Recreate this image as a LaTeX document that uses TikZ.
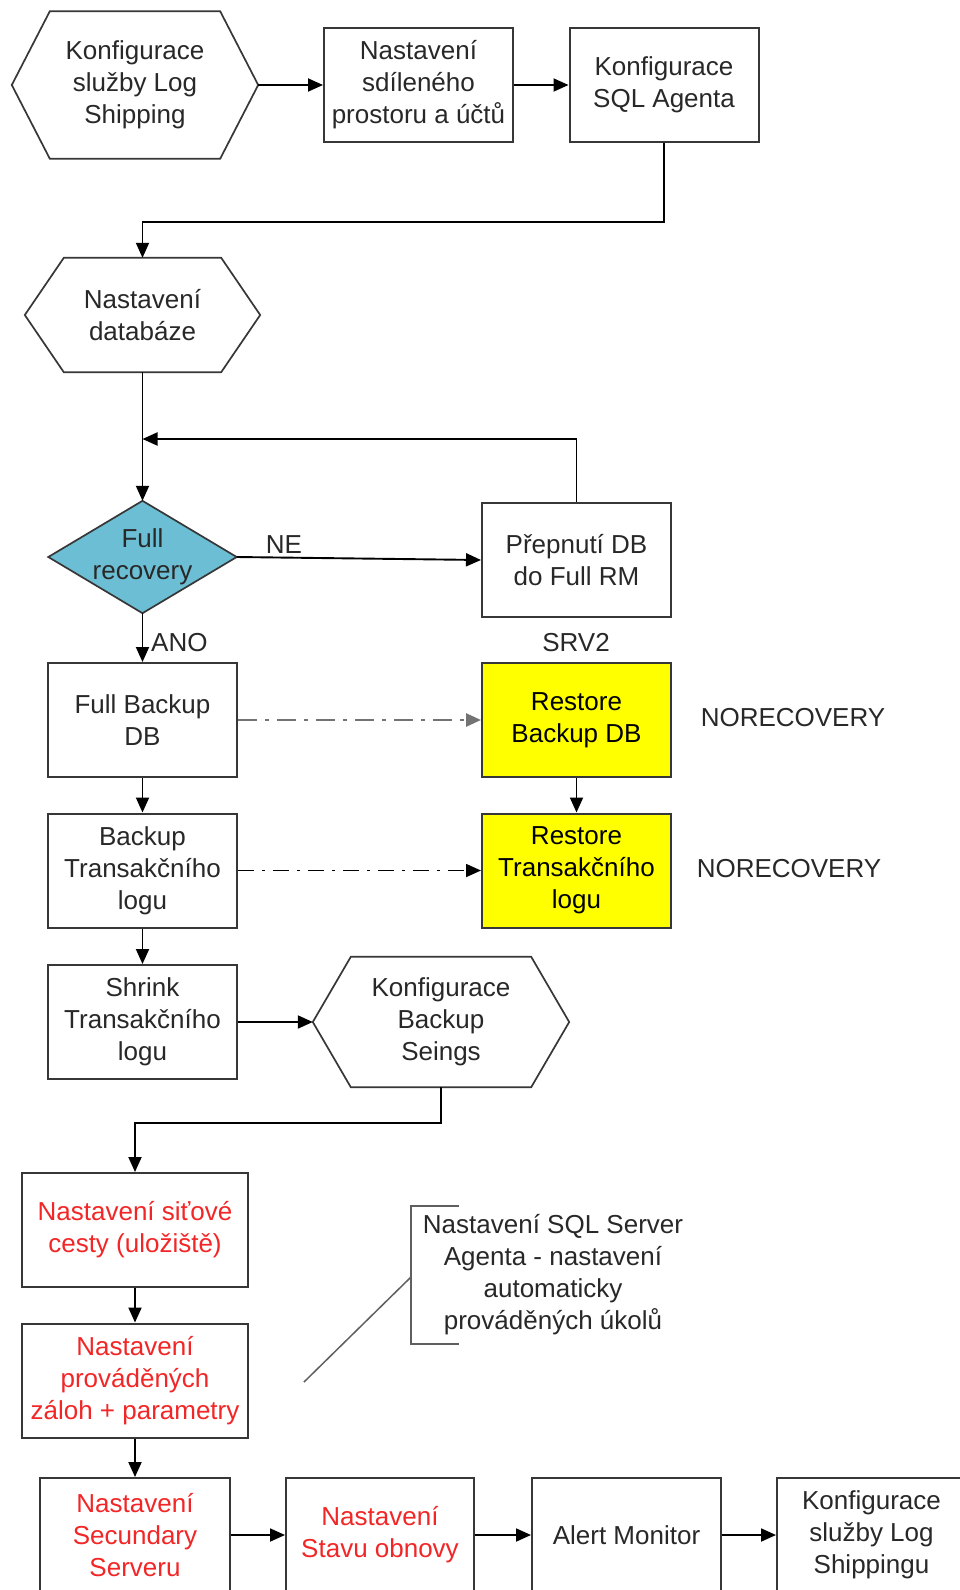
\documentclass[tikz,border=0pt]{standalone}
\usepackage{fontspec}
\setmainfont{Liberation Sans}
\usetikzlibrary{arrows.meta,backgrounds}
\definecolor{inkgray}{RGB}{40,40,40}
\definecolor{linegray}{RGB}{55,55,55}
\definecolor{decisionblue}{RGB}{108,190,212}
\definecolor{restoreyellow}{RGB}{255,255,0}
\definecolor{todored}{RGB}{242,38,38}
\definecolor{calloutgray}{RGB}{95,95,95}
\definecolor{transfergray}{RGB}{115,115,115}

% outline of a flat hexagon around a (borderless) node
\newcommand\hexoutline[2]{%
  \draw[hexline] (#1.west) -- ([xshift=#2]#1.north west) -- ([xshift=-#2]#1.north east)
    -- (#1.east) -- ([xshift=-#2]#1.south east) -- ([xshift=#2]#1.south west) -- cycle;}

\begin{document}
\begin{tikzpicture}[x=1pt,y=-1pt,
  every node/.style={font=\fontsize{26}{32}\selectfont, text=inkgray, align=center, inner sep=0pt},
  box/.style={draw=linegray, line width=2pt, minimum width=189pt, minimum height=114pt},
  redbox/.style={box, text=todored},
  yellowbox/.style={box, fill=restoreyellow, text=black},
  hexbody/.style={draw=none},
  hexline/.style={draw=linegray, line width=1.7pt},
  flow/.style={draw=black, line width=1.9pt, -{Triangle[length=15pt,width=13pt]}},
  transfer/.style={-{Triangle[length=15pt,width=13pt]}},
  tag/.style={text=inkgray}
]
\useasboundingbox (0,0) rectangle (960,1590);
\begin{scope}[on background layer]
  \fill[white] (0,0) rectangle (960,1590);
\end{scope}
\clip (0,0) rectangle (960,1590);

% --- top row ---
\node[hexbody, minimum width=246pt, minimum height=147pt] (cfgls) at (135,85)
  {Konfigurace\\služby Log\\Shipping};
\hexoutline{cfgls}{38pt}
\node[box] (share) at (418.5,85) {Nastavení\\sdíleného\\prostoru a účtů};
\node[box] (agent) at (664,85) {Konfigurace\\SQL Agenta};

% --- database preparation ---
\node[hexbody, minimum width=235pt, minimum height=114pt] (dbset) at (142.5,315)
  {Nastavení\\databáze};
\hexoutline{dbset}{39pt}

\node[minimum width=188pt, minimum height=112pt] (full) at (142.5,557) {Full\\recovery};
\begin{scope}[on background layer]
  \draw[draw=linegray, line width=1.7pt, fill=decisionblue]
    (full.west) -- (full.north) -- (full.east) -- (full.south) -- cycle;
\end{scope}

\node[box] (switch) at (576.5,560) {Přepnutí DB\\do Full RM};

% --- backups on the primary, restores on SRV2 ---
\node[box] (fullbak) at (142.5,720) {Full Backup\\DB};
\node[yellowbox] (rstdb) at (576.5,720) {Restore\\Backup DB};
\node[box] (logbak) at (142.5,870.5) {Backup\\Transakčního\\logu};
\node[yellowbox] (rstlog) at (576.5,870.5) {Restore\\Transakčního\\logu};
\node[box] (shrink) at (142.5,1022) {Shrink\\Transakčního\\logu};

\node[hexbody, minimum width=256pt, minimum height=130pt] (bkset) at (441,1022)
  {Konfigurace\\Backup\\Seings};
\hexoutline{bkset}{38pt}

% --- log shipping wizard steps ---
\node[redbox, minimum width=226pt] (netpath) at (135,1230) {Nastavení siťové\\cesty (uložiště)};
\node[redbox, minimum width=226pt] (jobs) at (135,1380.5) {Nastavení\\prováděných\\záloh + parametry};

\node[redbox, minimum width=190pt] (second) at (135,1535) {Nastavení\\Secundary\\Serveru};
\node[redbox, minimum width=188pt] (restst) at (380,1535) {Nastavení\\Stavu obnovy};
\node[box] (alert) at (626.5,1535) {Alert Monitor};
\node[box] (cfgend) at (871.5,1535) {Konfigurace\\služby Log\\Shippingu};

% --- labels ---
\node[tag] (lne) at (284,545) {NE};
\node[tag, anchor=west] (lano) at (151,643) {ANO};
\node[tag] (lsrv) at (576,643) {SRV2};
\node[tag] (lnr1) at (793,718) {NORECOVERY};
\node[tag] (lnr2) at (789,869) {NORECOVERY};

% --- annotation ---
\node (note) at (553,1275) {Nastavení SQL Server\\Agenta - nastavení\\automaticky\\prováděných úkolů};
\coordinate (brtop) at (459,1206);
\coordinate (brbot) at (459,1344);
\coordinate (brmid) at (411,1277);
\coordinate (ptr) at (304,1382);
\draw[calloutgray, line width=1.8pt] (brtop) -- (411,1206) -- (411,1344) -- (brbot);
\draw[calloutgray, line width=1.5pt] (brmid) -- (ptr);

% --- connectors ---
\coordinate (turn1) at (664,222);
\coordinate (loopin) at (142.5,439);
\coordinate (turn2) at (441,1123);

\draw[flow] (cfgls.east) -- (share.west);
\draw[flow] (share.east) -- (agent.west);
\draw[flow] (agent.south) -- (turn1) -| (dbset.north);
\draw[flow] (dbset.south) -- (full.north);
\draw[flow] (full.east) -- (switch.west);
\draw[flow] (switch.north) |- (loopin);
\draw[flow] (full.south) -- (fullbak.north);
\draw[transfer, transfergray, line width=2.6pt, dash pattern=on 19pt off 8pt on 4pt off 8pt]
  (fullbak.east) -- (rstdb.west);
\draw[flow] (rstdb.south) -- (rstlog.north);
\draw[flow] (fullbak.south) -- (logbak.north);
\draw[transfer, black, line width=1.7pt, dash pattern=on 16pt off 8pt on 3pt off 8pt]
  (logbak.east) -- (rstlog.west);
\draw[flow] (logbak.south) -- (shrink.north);
\draw[flow] (shrink.east) -- (bkset.west);
\draw[flow] (bkset.south) -- (turn2) -| (netpath.north);
\draw[flow] (netpath.south) -- (jobs.north);
\draw[flow] (jobs.south) -- (second.north);
\draw[flow] (second.east) -- (restst.west);
\draw[flow] (restst.east) -- (alert.west);
\draw[flow] (alert.east) -- (cfgend.west);
\end{tikzpicture}
\end{document}
